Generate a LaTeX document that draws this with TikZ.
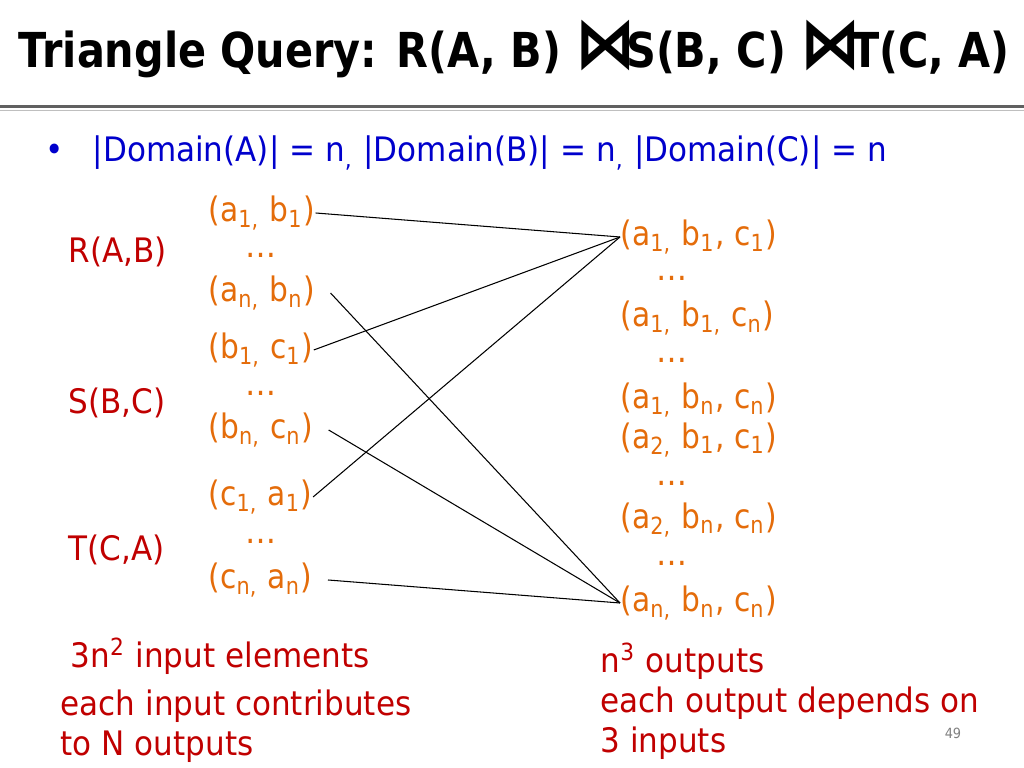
\documentclass[tikz,border=0pt]{standalone}
\usepackage{fontspec}
\setmainfont{DejaVu Sans}[FakeStretch=0.92]
\newfontfamily\titlefont{DejaVu Sans}[FakeStretch=0.86]
\newfontfamily\tupfont{DejaVu Sans}[FakeStretch=0.88]
\definecolor{tuporange}{RGB}{228,108,10}
\definecolor{relred}{RGB}{192,0,0}
\definecolor{bulblue}{RGB}{0,0,204}
\newcommand{\sbs}[1]{\textsubscript{#1}}
\newcommand{\jointie}{{\fontsize{20}{20}\selectfont ⋈}}

\begin{document}
\begin{tikzpicture}[every node/.style={font=\fontsize{9.6}{11}\selectfont},
  tup/.style={text=tuporange, inner sep=0pt, anchor=west, font=\tupfont\fontsize{9.6}{11}\selectfont},
  dots/.style={text=tuporange, inner sep=0pt},
  rel/.style={text=relred, inner sep=0pt, anchor=base west}]
  \useasboundingbox (0,0) rectangle (10.24,7.68);
  % title and rule
  \node[anchor=base west, inner sep=0pt, font=\titlefont\bfseries\fontsize{13.7}{16}\selectfont] (TT) at (0.18,7.00)
    {Triangle Query: R(A, B) \jointie\kern-0.2em S(B, C) \jointie\kern-0.2em T(C, A)};
  \draw[line width=0.85pt, gray!75!black] (0,6.615) -- (10.24,6.615);
  \draw[line width=0.4pt, gray!50] (0,6.575) -- (10.24,6.575);
  % domains
  \node[text=bulblue, inner sep=0pt] (BU) at (0.55,6.15) {•};
  \node[text=bulblue, inner sep=0pt, anchor=west] (DOM) at (0.92,6.15)
    {|Domain(A)| = n\sbs{,} |Domain(B)| = n\sbs{,} |Domain(C)| = n};
  % relations
  \node[rel] (R) at (0.68,5.05) {R(A,B)};
  \node[rel] (S) at (0.68,3.54) {S(B,C)};
  \node[rel] (T) at (0.68,2.07) {T(C,A)};
  % input tuples
  \node[tup] (AB1) at (2.08,5.55) {(a\sbs{1,} b\sbs{1})};
  \node[dots] (D1) at (2.61,5.13) {…};
  \node[tup] (ABn) at (2.08,4.75) {(a\sbs{n,} b\sbs{n})};
  \node[tup] (BC1) at (2.08,4.18) {(b\sbs{1,} c\sbs{1})};
  \node[dots] (D2) at (2.61,3.75) {…};
  \node[tup] (BCn) at (2.08,3.38) {(b\sbs{n,} c\sbs{n})};
  \node[tup] (CA1) at (2.08,2.71) {(c\sbs{1,} a\sbs{1})};
  \node[dots] (D3) at (2.61,2.27) {…};
  \node[tup] (CAn) at (2.08,1.88) {(c\sbs{n,} a\sbs{n})};
  % output tuples
  \node[tup] (ABC1) at (6.2,5.31) {(a\sbs{1,} b\sbs{1}, c\sbs{1})};
  \node[dots] (E1) at (6.72,4.90) {…};
  \node[tup] (ABC2) at (6.2,4.50) {(a\sbs{1,} b\sbs{1,} c\sbs{n})};
  \node[dots] (E2) at (6.72,4.08) {…};
  \node[tup] (ABC3) at (6.2,3.68) {(a\sbs{1,} b\sbs{n}, c\sbs{n})};
  \node[tup] (ABC4) at (6.2,3.28) {(a\sbs{2,} b\sbs{1}, c\sbs{1})};
  \node[dots] (E3) at (6.72,2.85) {…};
  \node[tup] (ABC5) at (6.2,2.48) {(a\sbs{2,} b\sbs{n}, c\sbs{n})};
  \node[dots] (E4) at (6.72,2.05) {…};
  \node[tup] (ABCn) at (6.2,1.65) {(a\sbs{n,} b\sbs{n}, c\sbs{n})};
  % joins
  \draw[line width=0.3pt] (AB1.east) -- (ABC1.west);
  \draw[line width=0.3pt] (BC1.east) -- (ABC1.west);
  \draw[line width=0.3pt] (CA1.east) -- (ABC1.west);
  \draw[line width=0.3pt] ([xshift=0.15cm]ABn.east) -- (ABCn.west);
  \draw[line width=0.3pt] ([xshift=0.15cm]BCn.east) -- (ABCn.west);
  \draw[line width=0.3pt] ([xshift=0.15cm]CAn.east) -- (ABCn.west);
  % counts
  \node[rel] (IN1) at (0.70,1.00) {3n\textsuperscript{2} input elements};
  \node[rel] (IN2) at (0.60,0.52) {each input contributes};
  \node[rel] (IN3) at (0.60,0.12) {to N outputs};
  \node[rel] (OUT1) at (6.00,0.95) {n\textsuperscript{3} outputs};
  \node[rel] (OUT2) at (6.00,0.55) {each output depends on};
  \node[rel] (OUT3) at (6.00,0.15) {3 inputs};
  \node[text=gray, font=\fontsize{4}{5}\selectfont] (PG) at (9.53,0.35) {49};
\end{tikzpicture}
\end{document}
